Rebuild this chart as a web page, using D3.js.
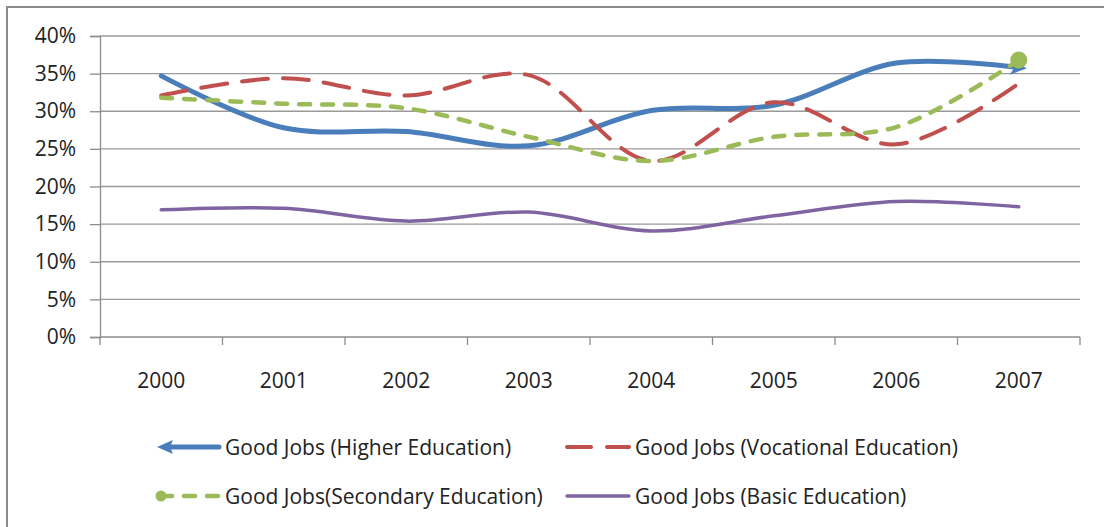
<!DOCTYPE html>
<html>
<head>
<meta charset="utf-8">
<script src="https://cdn.jsdelivr.net/npm/d3@7"></script>
<style>
  html, body { margin: 0; padding: 0; background: #fff; }
  svg { display: block; }
  text { font-family: "Open Sans", Lato, sans-serif; fill: #222; }
</style>
</head>
<body>
<svg id="chart" width="1104" height="527"></svg>
<script>
// Share of good jobs by level of education, 2000-2007
const years = ["2000", "2001", "2002", "2003", "2004", "2005", "2006", "2007"];
const higher     = [34.7, 27.8, 27.3, 25.4, 30.1, 30.8, 36.4, 35.8];
const vocational = [32.1, 34.4, 32.1, 34.8, 23.4, 31.2, 25.6, 33.7];
const secondary  = [31.8, 31.0, 30.4, 26.6, 23.4, 26.6, 27.9, 36.8];
const basic      = [16.9, 17.1, 15.4, 16.6, 14.1, 16.1, 18.0, 17.3];
const yTicks = [0, 5, 10, 15, 20, 25, 30, 35, 40];

const series = [
  { name: "Good Jobs (Higher Education)",     values: higher,     color: "#4a7ebb", width: 5,   dash: null,    cap: "round", end: "arrow" },
  { name: "Good Jobs (Vocational Education)", values: vocational, color: "#c0504d", width: 4,   dash: "26,15", cap: "round", end: null },
  { name: "Good Jobs(Secondary Education)",   values: secondary,  color: "#9bbb59", width: 4.5, dash: "11,12", cap: "round", end: "dot" },
  { name: "Good Jobs (Basic Education)",      values: basic,      color: "#8064a2", width: 3.5, dash: null,    cap: "round", end: null }
];

const FONT = "21px";
const svg = d3.select("#chart");
const plot = { left: 100, right: 1080, top: 36, bottom: 337 };

// outer frame (open to the right and bottom)
svg.append("path")
  .attr("d", "M7,527 L7,7 L1104,7")
  .attr("fill", "none").attr("stroke", "#8c8c8c").attr("stroke-width", 2);

const x = d3.scaleBand().domain(years).range([plot.left, plot.right]);
const y = d3.scaleLinear().domain([0, 40]).range([plot.bottom, plot.top]);

// horizontal gridlines
svg.append("g").selectAll("line").data(yTicks.filter(t => t > 0)).join("line")
  .attr("x1", plot.left).attr("x2", plot.right)
  .attr("y1", d => y(d)).attr("y2", d => y(d))
  .attr("stroke", "#9a9a9a").attr("stroke-width", 1.3);

// y axis
const yAxis = svg.append("g").attr("transform", `translate(${plot.left},0)`)
  .call(d3.axisLeft(y).tickValues(yTicks).tickSize(10).tickPadding(14).tickFormat(d => d + "%"));
yAxis.select(".domain").attr("stroke", "#8c8c8c").attr("stroke-width", 1.3);
yAxis.selectAll(".tick line").attr("stroke", "#8c8c8c").attr("stroke-width", 1.3);
yAxis.selectAll(".tick text").style("font-family", "'Open Sans', sans-serif").style("font-size", FONT).attr("fill", "#222");

// x axis with ticks on category boundaries
const xAxisG = svg.append("g");
xAxisG.append("line")
  .attr("x1", plot.left).attr("x2", plot.right)
  .attr("y1", plot.bottom).attr("y2", plot.bottom)
  .attr("stroke", "#8c8c8c").attr("stroke-width", 1.3);
const bounds = years.map(d => x(d)).concat([plot.right]);
xAxisG.selectAll("line.tk").data(bounds).join("line").attr("class", "tk")
  .attr("x1", d => d).attr("x2", d => d)
  .attr("y1", plot.bottom).attr("y2", plot.bottom + 8)
  .attr("stroke", "#8c8c8c").attr("stroke-width", 1.3);
xAxisG.selectAll("text").data(years).join("text")
  .attr("x", d => x(d) + x.bandwidth() / 2)
  .attr("y", 388)
  .attr("text-anchor", "middle")
  .style("font-size", FONT)
  .text(d => d);

// arrowhead for the higher-education line
const defs = svg.append("defs");
defs.append("marker")
  .attr("id", "arrowEnd")
  .attr("viewBox", "0 0 10 10")
  .attr("refX", 5).attr("refY", 5)
  .attr("markerWidth", 3.2).attr("markerHeight", 3.2)
  .attr("markerUnits", "strokeWidth")
  .attr("orient", "auto")
  .append("path").attr("d", "M0,0 L10,5 L0,10 L2.5,5 Z").attr("fill", "#4a7ebb");

const line = d3.line()
  .x((d, i) => x(years[i]) + x.bandwidth() / 2)
  .y(d => y(d))
  .curve(d3.curveCatmullRom.alpha(0.5));

const lines = svg.append("g");
series.forEach(s => {
  const p = lines.append("path")
    .attr("d", line(s.values))
    .attr("fill", "none")
    .attr("stroke", s.color)
    .attr("stroke-width", s.width)
    .attr("stroke-linecap", s.cap)
    .attr("stroke-linejoin", "round");
  if (s.dash) p.attr("stroke-dasharray", s.dash);
  if (s.end === "arrow") p.attr("marker-end", "url(#arrowEnd)");
  if (s.end === "dot") {
    const last = s.values.length - 1;
    lines.append("circle")
      .attr("cx", x(years[last]) + x.bandwidth() / 2)
      .attr("cy", y(s.values[last]))
      .attr("r", 8.5)
      .attr("fill", s.color);
  }
});

// legend: two rows, two columns
const legendPos = [
  { lx: 157, ly: 447 }, { lx: 567, ly: 447 },
  { lx: 157, ly: 496 }, { lx: 567, ly: 496 }
];
series.forEach((s, i) => {
  const { lx, ly } = legendPos[i];
  const g = svg.append("g");
  const x0 = i === 0 ? lx + 8 : (i === 2 ? lx + 4 : lx);
  const seg = g.append("line")
    .attr("x1", x0).attr("x2", lx + 62)
    .attr("y1", ly).attr("y2", ly)
    .attr("stroke", s.color)
    .attr("stroke-width", s.width)
    .attr("stroke-linecap", s.cap);
  if (s.dash) seg.attr("stroke-dasharray", i === 1 ? "24,16" : "11,12");
  if (s.end === "arrow") {
    g.append("path")
      .attr("d", `M${lx},${ly} L${lx + 16},${ly - 7} L${lx + 13},${ly} L${lx + 16},${ly + 7} Z`)
      .attr("fill", s.color);
  }
  if (s.end === "dot") {
    g.append("circle").attr("cx", lx + 4).attr("cy", ly).attr("r", 5.5).attr("fill", s.color);
  }
  g.append("text")
    .attr("x", lx + 68).attr("y", ly + 7.5)
    .style("font-size", FONT)
    .text(s.name);
});
</script>
</body>
</html>
